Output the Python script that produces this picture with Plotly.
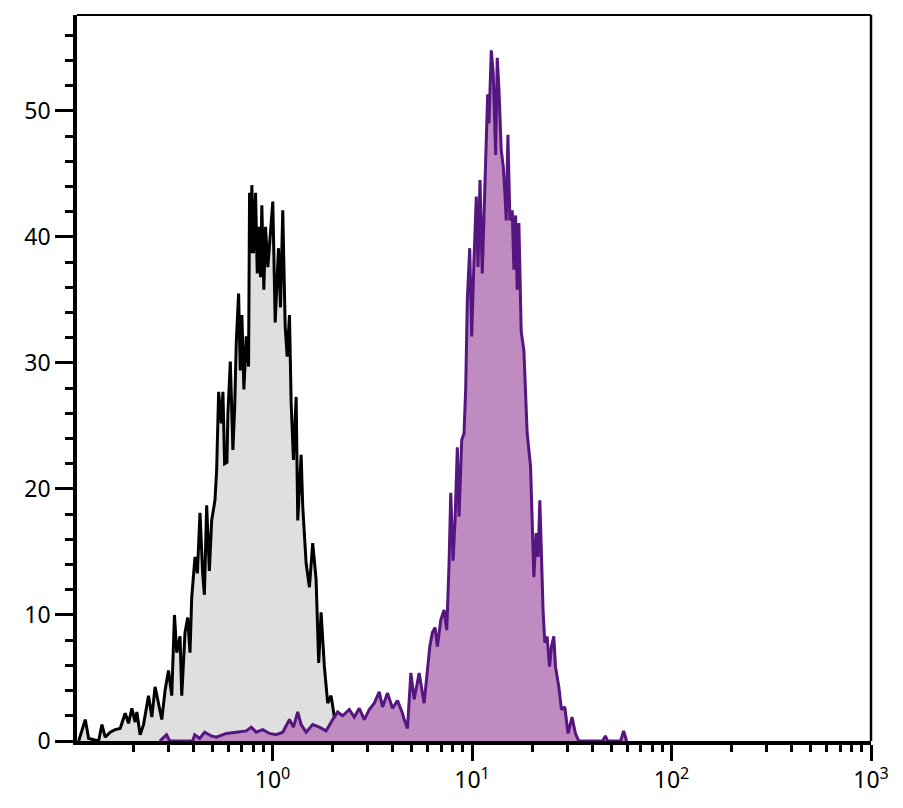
import plotly.graph_objects as go

# Control (gray) histogram: fluorescence intensity vs count
ctrl_x = [0.1068, 0.1152, 0.1198, 0.1269, 0.1344, 0.1396, 0.1450, 0.1536, 0.1627, 0.1723,
          0.1826, 0.1899, 0.1972, 0.2049, 0.2089, 0.2170, 0.2257, 0.2390, 0.2483, 0.2579,
          0.2682, 0.2786, 0.2894, 0.3010, 0.3126, 0.3225, 0.3311, 0.3439, 0.3508, 0.3643,
          0.3758, 0.3859, 0.3936, 0.4088, 0.4202, 0.4330, 0.4467, 0.4555, 0.4677, 0.4825,
          0.4955, 0.5147, 0.5248, 0.5370, 0.5540, 0.5643, 0.5754, 0.5908, 0.5977, 0.6145,
          0.6331, 0.6457, 0.6585, 0.6761, 0.6895, 0.7023, 0.7187, 0.7388, 0.7586, 0.7674,
          0.7762, 0.7879, 0.8035, 0.8222, 0.8385, 0.8541, 0.8710, 0.8842, 0.9047, 0.9226,
          0.9473, 0.9772, 1.0035, 1.0316, 1.0715, 1.0965, 1.1258, 1.1575, 1.1844, 1.2162,
          1.2402, 1.2735, 1.3137, 1.3381, 1.3916, 1.4175, 1.4741, 1.5311, 1.5904, 1.6540,
          1.7043, 1.7520, 1.8197, 1.8906, 1.9661, 2.0417, 2.1210, 2.1878]
ctrl_y = [0, 1.7, 0.2, 0.1, 0, 1.3, 0.3, 0.7, 0.9, 1.0,
          2.2, 1.4, 2.6, 1.5, 2.3, 0.5, 1.3, 3.6, 1.9, 4.3,
          3.0, 1.7, 4.0, 5.6, 3.6, 10.0, 7.0, 8.3, 3.6, 8.6,
          9.8, 7.0, 11.4, 14.6, 13.3, 18.1, 13.3, 11.6, 18.7, 13.5,
          17.5, 19.1, 21.5, 27.7, 25.2, 27.7, 22.0, 22.1, 26.0, 30.1,
          23.1, 26.3, 31.7, 35.5, 29.4, 33.8, 27.9, 32.1, 29.7, 43.5,
          38.7, 44.1, 38.7, 43.5, 37.1, 40.8, 36.8, 42.5, 35.8, 40.8,
          37.6, 40.3, 42.8, 33.2, 39.1, 34.4, 42.1, 32.9, 30.5, 33.8,
          26.8, 22.3, 27.3, 17.5, 22.7, 18.6, 14.1, 12.2, 15.7, 12.8,
          6.2, 10.2, 5.9, 3.0, 3.6, 1.9, 0.9, 0]

# Stained sample (purple) histogram
stain_x = [0.2723, 0.2942, 0.3055, 0.3981, 0.4074, 0.4315, 0.4571, 0.4938, 0.5230, 0.5868,
           0.6585, 0.7388, 0.7825, 0.8289, 0.8943, 0.9661, 1.0435, 1.1258, 1.2162, 1.2735,
           1.3381, 1.3916, 1.4741, 1.5904, 1.7179, 1.8561, 2.0023, 2.1210, 2.2465, 2.4266,
           2.5704, 2.7227, 2.8840, 3.0549, 3.2359, 3.4277, 3.5605, 3.7715, 3.9951, 4.2317,
           4.4824, 4.5709, 4.7479, 4.9374, 5.1286, 5.4325, 5.7544, 5.9774, 6.1451, 6.3317,
           6.5313, 6.7067, 6.9743, 7.2444, 7.4732, 7.6736, 7.8253, 8.0353, 8.2224, 8.4431,
           8.6099, 8.8818, 9.1201, 9.2999, 9.4732, 9.7384, 9.9655, 10.233, 10.507, 10.715,
           10.965, 11.258, 11.575, 11.790, 11.981, 12.162, 12.488, 12.778, 13.137, 13.381,
           13.646, 14.012, 14.337, 14.622, 14.842, 15.136, 15.488, 15.904, 16.218, 16.539,
           16.846, 17.179, 17.640, 18.197, 18.557, 18.902, 19.656, 20.184, 20.417, 20.964,
           21.452, 21.878, 22.310, 22.725, 23.174, 23.796, 24.463, 25.032, 25.704, 26.212,
           27.227, 28.087, 29.174, 30.302, 31.725, 32.988, 34.277, 45.186, 46.614, 47.863,
           55.590, 57.544, 59.566]
stain_y = [0, 0.5, 0, 0, 0.5, 0.2, 0.7, 0.4, 0.3, 0.6,
           0.7, 0.8, 1.1, 0.7, 0.9, 0.6, 0.5, 0.7, 1.7, 1.1,
           2.3, 1.3, 0.7, 1.3, 1.1, 0.8, 1.7, 2.3, 2.0, 2.5,
           1.9, 2.6, 1.7, 2.5, 3.0, 3.9, 2.7, 3.8, 2.6, 3.2,
           2.2, 1.7, 1.0, 5.4, 3.3, 5.4, 3.0, 5.9, 7.5, 8.6,
           9.0, 7.5, 9.6, 10.4, 8.8, 14.1, 19.7, 14.3, 17.5, 23.3,
           17.8, 23.9, 24.4, 28.0, 35.0, 39.1, 32.1, 38.2, 43.2, 37.6,
           44.5, 37.1, 44.3, 48.6, 51.3, 49.0, 54.8, 53.0, 46.5, 54.2,
           51.7, 46.9, 45.6, 43.5, 41.3, 48.1, 41.3, 42.1, 37.4, 41.7,
           35.8, 41.1, 32.5, 31.0, 27.0, 24.4, 21.8, 16.5, 13.0, 16.5,
           14.6, 19.1, 14.6, 10.2, 7.8, 8.3, 5.9, 7.5, 8.3, 5.9,
           4.3, 2.5, 2.7, 0.6, 1.9, 0.6, 0, 0, 0.4, 0,
           0, 0.8, 0]

x_tick_vals = [1, 10, 100, 1000]
x_tick_text = ["10<sup>0</sup>", "10<sup>1</sup>", "10<sup>2</sup>", "10<sup>3</sup>"]
x_minor_vals = [m * d for d in (0.1, 1, 10, 100) for m in range(2, 10)]
y_tick_vals = [0, 10, 20, 30, 40, 50]
y_minor_vals = list(range(2, 58, 2))

fig = go.Figure()
fig.add_trace(go.Scatter(x=ctrl_x, y=ctrl_y, mode="lines", fill="tozeroy",
                         fillcolor="#dfdfdf", line=dict(color="#000000", width=3),
                         showlegend=False))
fig.add_trace(go.Scatter(x=stain_x, y=stain_y, mode="lines", fill="tozeroy",
                         fillcolor="#c08bc1", line=dict(color="#55167f", width=3),
                         showlegend=False))

font = dict(family="Noto Sans, DejaVu Sans, sans-serif", size=23, color="#000000")

fig.update_layout(
    width=903, height=808,
    margin=dict(l=69, r=40, t=7, b=75),
    plot_bgcolor="white", paper_bgcolor="white",
    font=font,
    xaxis=dict(type="log", range=[-0.98, 3.0], showgrid=False, zeroline=False,
               showline=True, linecolor="black", linewidth=3.5,
               tickmode="array", tickvals=x_tick_vals, ticktext=x_tick_text,
               ticks="outside", ticklen=16, tickwidth=3, tickcolor="black",
               minor=dict(tickmode="array", tickvals=x_minor_vals, ticks="outside",
                          ticklen=7, tickwidth=2.5, tickcolor="black", showgrid=False),
               tickfont=font),
    yaxis=dict(range=[0, 57.6], showgrid=False, zeroline=False,
               showline=True, linecolor="black", linewidth=3.5,
               tickmode="array", tickvals=y_tick_vals,
               ticks="outside", ticklen=18, tickwidth=3, tickcolor="black",
               minor=dict(tickmode="array", tickvals=y_minor_vals, ticks="outside",
                          ticklen=8, tickwidth=2.5, tickcolor="black", showgrid=False),
               tickfont=font),
)
# thin frame on top and right
fig.add_shape(type="line", xref="paper", yref="paper", x0=0, x1=1, y0=1, y1=1,
              line=dict(color="black", width=2))
fig.add_shape(type="line", xref="paper", yref="paper", x0=1, x1=1, y0=0, y1=1,
              line=dict(color="black", width=2.5))

fig.write_html("out.html")
